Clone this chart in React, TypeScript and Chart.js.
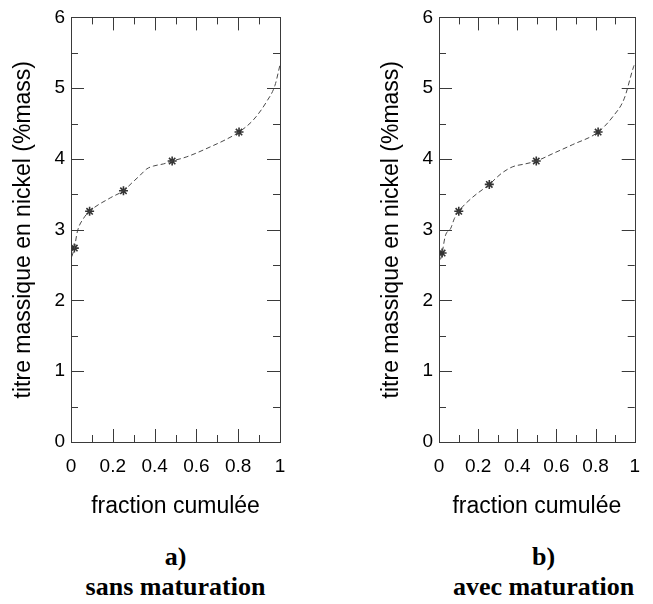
import React, { useEffect, useRef } from 'react';
import { Chart, registerables } from 'chart.js';

Chart.register(...registerables);

// ---- data ----
const xTickLabels = ['0', '0.2', '0.4', '0.6', '0.8', '1'];
const yTickLabels = ['0', '1', '2', '3', '4', '5', '6'];
const xTickMarks = [0, 0.1, 0.2, 0.3, 0.4, 0.5, 0.6, 0.7, 0.8, 0.9, 1];
const xMajorMarks = [0, 0.2, 0.4, 0.6, 0.8, 1];
const yTickMarks = [0, 0.5, 1, 1.5, 2, 2.5, 3, 3.5, 4, 4.5, 5, 5.5, 6];
const yMajorMarks = [0, 1, 2, 3, 4, 5, 6];

// panel a) sans maturation
const curveAx = [0.004, 0.016, 0.031, 0.06, 0.089, 0.188, 0.251, 0.291, 0.331, 0.363, 0.395, 0.443, 0.484, 0.554, 0.681, 0.745, 0.804, 0.872, 0.936, 0.976, 1.0];
const curveAy = [2.62, 2.74, 2.98, 3.16, 3.26, 3.45, 3.55, 3.66, 3.77, 3.86, 3.9, 3.93, 3.97, 4.03, 4.19, 4.28, 4.38, 4.55, 4.81, 5.04, 5.33];
const markAx = [0.016, 0.089, 0.251, 0.484, 0.804];
const markAy = [2.74, 3.26, 3.55, 3.97, 4.38];

// panel b) avec maturation
const curveBx = [0.008, 0.016, 0.032, 0.06, 0.079, 0.101, 0.168, 0.257, 0.321, 0.377, 0.441, 0.497, 0.585, 0.681, 0.813, 0.889, 0.946, 0.994, 1.0];
const curveBy = [2.58, 2.67, 2.91, 3.02, 3.16, 3.26, 3.45, 3.64, 3.8, 3.89, 3.93, 3.97, 4.08, 4.2, 4.38, 4.6, 4.85, 5.3, 5.34];
const markBx = [0.016, 0.101, 0.257, 0.497, 0.813];
const markBy = [2.67, 3.26, 3.64, 3.97, 4.38];

const xTitle = 'fraction cumulée';
const yTitle = 'titre massique en nickel (%mass)';
const captionsA = ['a)', 'sans maturation'];
const captionsB = ['b)', 'avec maturation'];

const SANS = "'Liberation Sans', Arial, Helvetica, sans-serif";
const SERIF = "'Liberation Serif', 'Times New Roman', serif";

const framePlugin = {
  id: 'frameTicks',
  afterDatasetsDraw(chart: any) {
    const { ctx, chartArea, scales } = chart;
    const { left, right, top, bottom } = chartArea;
    const xs = scales.x;
    const ys = scales.y;
    ctx.save();
    ctx.strokeStyle = '#3a3a3a';
    ctx.lineWidth = 1;
    ctx.setLineDash([]);
    ctx.strokeRect(Math.round(left) + 0.5, Math.round(top) + 0.5, Math.round(right - left), Math.round(bottom - top));
    ctx.beginPath();
    for (const v of xTickMarks) {
      const px = Math.round(xs.getPixelForValue(v)) + 0.5;
      const len = xMajorMarks.includes(v) ? 13 : 7;
      ctx.moveTo(px, bottom);
      ctx.lineTo(px, bottom - len);
      ctx.moveTo(px, top);
      ctx.lineTo(px, top + len);
    }
    for (const v of yTickMarks) {
      const py = Math.round(ys.getPixelForValue(v)) + 0.5;
      const len = yMajorMarks.includes(v) ? 13 : 7;
      ctx.moveTo(left, py);
      ctx.lineTo(left + len, py);
      ctx.moveTo(right, py);
      ctx.lineTo(right - len, py);
    }
    ctx.stroke();
    ctx.restore();
  },
};

type PanelProps = {
  cx: number[];
  cy: number[];
  mx: number[];
  my: number[];
  left: number;
  width: number;
  padRight: number;
};

function Panel({ cx, cy, mx, my, left, width, padRight }: PanelProps) {
  const ref = useRef<HTMLCanvasElement | null>(null);
  useEffect(() => {
    if (!ref.current) return;
    const chart = new Chart(ref.current, {
      type: 'scatter',
      data: {
        datasets: [
          {
            label: 'courbe',
            data: cx.map((x, i) => ({ x, y: cy[i] })),
            showLine: true,
            borderColor: '#4a4a4a',
            borderWidth: 1,
            borderDash: [5, 3],
            pointRadius: 0,
            cubicInterpolationMode: 'monotone',
            fill: false,
          } as any,
          {
            label: 'mesures',
            data: mx.map((x, i) => ({ x, y: my[i] })),
            showLine: false,
            pointStyle: 'star',
            pointRadius: 4.5,
            borderColor: '#333',
            backgroundColor: '#666',
            borderWidth: 1.6,
          } as any,
        ],
      },
      options: {
        animation: false,
        responsive: false,
        devicePixelRatio: 1,
        layout: { padding: { top: 15, right: padRight, left: 0, bottom: 0 } },
        plugins: { legend: { display: false }, tooltip: { enabled: false }, title: { display: false } },
        scales: {
          x: {
            type: 'linear',
            min: 0,
            max: 1,
            grid: { display: false, drawTicks: false },
            border: { display: false },
            ticks: {
              stepSize: 0.2,
              padding: 13,
              color: '#000',
              font: { family: SANS, size: 19 },
              maxRotation: 0,
              callback: (_v: any, i: number) => xTickLabels[i],
            },
            title: {
              display: true,
              text: xTitle,
              color: '#000',
              font: { family: SANS, size: 23 },
              padding: { top: 0, bottom: 10 },
            },
            afterFit: (s: any) => {
              s.height = 88;
            },
          },
          y: {
            type: 'linear',
            min: 0,
            max: 6,
            grid: { display: false, drawTicks: false },
            border: { display: false },
            ticks: {
              stepSize: 1,
              padding: 6,
              color: '#000',
              font: { family: SANS, size: 19 },
              callback: (_v: any, i: number) => yTickLabels[i],
            },
            title: {
              display: true,
              text: yTitle,
              color: '#000',
              font: { family: SANS, size: 23 },
              padding: { top: 10, bottom: 0 },
            },
            afterFit: (s: any) => {
              s.width = 71;
            },
          },
        },
      } as any,
      plugins: [framePlugin],
    });
    return () => chart.destroy();
  }, []);
  return (
    <canvas
      ref={ref}
      width={width}
      height={530}
      style={{ position: 'absolute', left, top: 0, width, height: 530 }}
    />
  );
}

function Caption({ lines, center }: { lines: string[]; center: number }) {
  const base: React.CSSProperties = {
    position: 'absolute',
    left: center - 150,
    width: 300,
    textAlign: 'center',
    fontFamily: SERIF,
    fontWeight: 'bold',
    fontSize: 26,
    lineHeight: '30px',
    color: '#000',
    whiteSpace: 'nowrap',
  };
  return (
    <>
      <div style={{ ...base, top: 542 }}>{lines[0]}</div>
      <div style={{ ...base, top: 572 }}>{lines[1]}</div>
    </>
  );
}

export default function App() {
  return (
    <div style={{ position: 'absolute', left: 0, top: 0, width: 653, height: 604, background: '#fff', overflow: 'hidden' }}>
      <Panel cx={curveAx} cy={curveAy} mx={markAx} my={markAy} left={0} width={326} padRight={46} />
      <Panel cx={curveBx} cy={curveBy} mx={markBx} my={markBy} left={368} width={285} padRight={5} />
      <Caption lines={captionsA} center={175.5} />
      <Caption lines={captionsB} center={543.5} />
    </div>
  );
}
